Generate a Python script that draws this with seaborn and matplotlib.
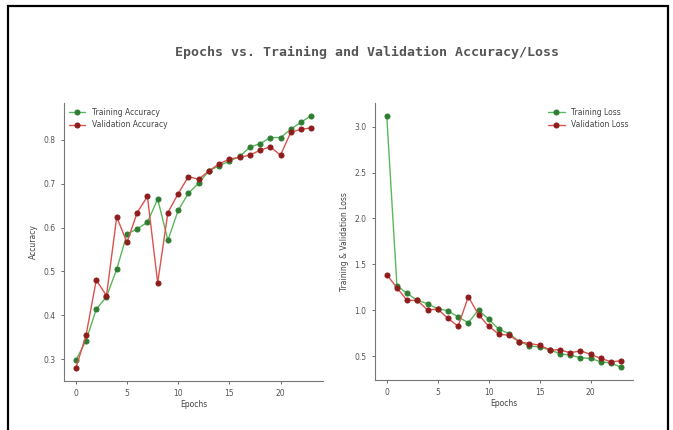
import numpy as np
import pandas as pd
import seaborn as sns
import matplotlib.pyplot as plt
from matplotlib.patches import Rectangle

epochs = list(range(24))
train_acc = [0.297, 0.342, 0.414, 0.442, 0.505, 0.585, 0.597, 0.612, 0.665, 0.571,
             0.639, 0.678, 0.701, 0.729, 0.741, 0.751, 0.762, 0.783, 0.791, 0.805,
             0.805, 0.824, 0.840, 0.855]
val_acc = [0.279, 0.354, 0.480, 0.445, 0.624, 0.566, 0.634, 0.671, 0.474, 0.634,
           0.677, 0.716, 0.710, 0.729, 0.745, 0.756, 0.760, 0.765, 0.776, 0.784,
           0.765, 0.817, 0.824, 0.827]
train_loss = [3.12, 1.27, 1.184, 1.11, 1.072, 1.018, 0.996, 0.928, 0.866, 1.004,
              0.903, 0.794, 0.747, 0.660, 0.614, 0.600, 0.570, 0.527, 0.513, 0.484,
              0.477, 0.440, 0.426, 0.379]
val_loss = [1.39, 1.245, 1.108, 1.108, 1.004, 1.014, 0.913, 0.827, 1.148, 0.953,
            0.827, 0.740, 0.729, 0.657, 0.639, 0.621, 0.570, 0.570, 0.538, 0.560,
            0.520, 0.477, 0.440, 0.451]

title = "Epochs vs. Training and Validation Accuracy/Loss"

sns.set_style("ticks")
plt.rcParams['font.family'] = ['DejaVu Sans']

W, H = 673, 430
fig = plt.figure(figsize=(W / 100, H / 100), dpi=100)
fig.patch.set_facecolor("white")

ax1 = fig.add_axes([64 / W, (H - 381) / H, (323 - 64) / W, (381 - 103) / H])
ax2 = fig.add_axes([375 / W, (H - 380) / H, (633 - 375) / W, (380 - 103) / H])

g_line, g_mark = "#5cb85c", "#2f7d32"
r_line, r_mark = "#d9534f", "#8e1c1c"

def draw(ax, tr, va, lab_tr, lab_va):
    sns.lineplot(x=epochs, y=tr, ax=ax, color=g_line, lw=1.0, marker='o', markersize=3.6,
                 markerfacecolor=g_mark, markeredgecolor=g_mark, label=lab_tr)
    sns.lineplot(x=epochs, y=va, ax=ax, color=r_line, lw=1.0, marker='o', markersize=3.6,
                 markerfacecolor=r_mark, markeredgecolor=r_mark, label=lab_va)

draw(ax1, train_acc, val_acc, "Training Accuracy", "Validation Accuracy")
draw(ax2, train_loss, val_loss, "Training Loss", "Validation Loss")

for ax in (ax1, ax2):
    sns.despine(ax=ax)
    ax.set_xticks([0, 5, 10, 15, 20])
    ax.tick_params(labelsize=5.5, colors="#555555", length=2.5, width=0.6)
    for s in ("left", "bottom"):
        ax.spines[s].set_color("#777777")
        ax.spines[s].set_linewidth(0.8)
    ax.set_xlabel("Epochs", fontsize=5.5, color="#444444", labelpad=1)

ax1.set_ylabel("Accuracy", fontsize=5.5, color="#444444", labelpad=4)
ax2.set_ylabel("Training & Validation Loss", fontsize=5.5, color="#444444", labelpad=4)
ax1.set_yticks([0.3, 0.4, 0.5, 0.6, 0.7, 0.8])
ax2.set_yticks([0.5, 1.0, 1.5, 2.0, 2.5, 3.0])

ax1.legend(loc="upper left", frameon=False, fontsize=5.5, labelcolor="#444444",
           handlelength=2.2, borderaxespad=0.2)
ax2.legend(loc="upper right", frameon=False, fontsize=5.5, labelcolor="#444444",
           handlelength=2.2, borderaxespad=0.2)

fig.text(367 / W, 1 - 52 / H, title, ha="center", va="center", fontsize=9.5,
         family="DejaVu Sans Mono", fontweight="bold", color="#555555")

fig.add_artist(Rectangle((8 / W, -0.05), (668 - 8) / W, (H - 6) / H + 0.05,
                         transform=fig.transFigure, fill=False, edgecolor="black",
                         linewidth=1.6))

fig.savefig("out.png", dpi=100)
